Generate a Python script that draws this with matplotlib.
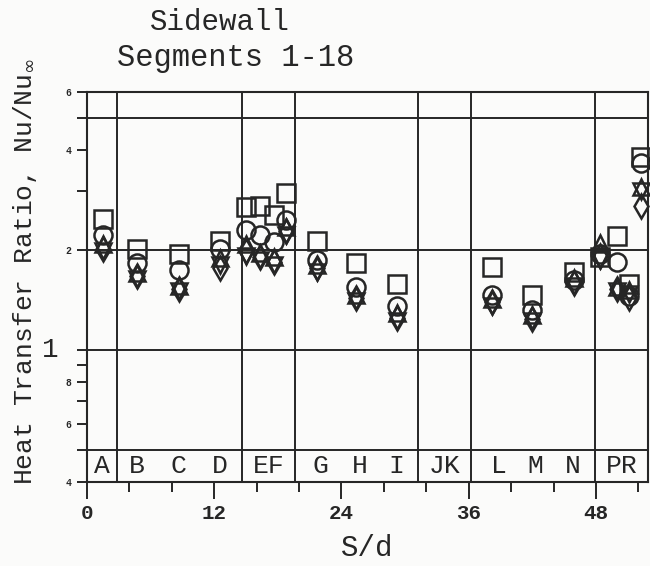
import matplotlib
matplotlib.use("Agg")
import matplotlib.pyplot as plt
from matplotlib.ticker import FixedLocator, FixedFormatter, MultipleLocator

# segment positions along the sidewall (S/d)
s_d = [1.5, 4.7, 8.7, 12.5, 15.0, 16.3, 17.6, 18.8, 21.7, 25.4, 29.2,
       38.2, 42.0, 45.9, 48.4, 50.0, 51.1, 52.2]

# heat transfer ratio Nu/Nu_inf, one list per symbol
nu_square = [2.48, 2.01, 1.95, 2.13, 2.69, 2.72, 2.55, 2.96, 2.13, 1.83, 1.58,
             1.78, 1.46, 1.72, 1.90, 2.20, 1.58, 3.80]
nu_circle = [2.22, 1.83, 1.74, 2.02, 2.30, 2.22, 2.12, 2.46, 1.87, 1.55, 1.36,
             1.46, 1.32, 1.62, 1.95, 1.84, 1.45, 3.65]
nu_tri_up = [2.08, 1.70, 1.56, 1.89, 2.08, 1.96, 1.90, 2.35, 1.80, 1.46, 1.29,
             1.42, 1.27, 1.65, 2.10, 1.55, 1.52, 3.10]
nu_tri_down = [1.98, 1.64, 1.50, 1.80, 1.92, 1.86, 1.80, 2.22, 1.72, 1.40, 1.22,
               1.36, 1.22, 1.56, 1.86, 1.50, 1.47, 3.00]
nu_diamond = [2.02, 1.67, 1.53, 1.76, 1.98, 1.90, 1.84, 2.28, 1.76, 1.43, 1.25,
              1.39, 1.24, 1.59, 1.92, 1.53, 1.43, 2.72]

# region boundaries and region names
boundaries = [2.8, 14.6, 19.6, 31.2, 36.2, 47.9]
region_names = ["A", "B", "C", "D", "EF", "G", "H", "I", "JK", "L", "M", "N", "PR"]
region_x = [1.4, 4.7, 8.6, 12.5, 17.1, 22.0, 25.7, 29.2, 33.7, 38.8, 42.3, 45.8, 50.4]
grid_levels = [0.5, 1, 2, 5]

y_ticks = [0.4, 0.5, 0.6, 0.7, 0.8, 0.9, 1, 2, 3, 4, 5, 6]
y_tick_labels = ["4", "", "6", "", "8", "", "", "2", "", "4", "", "6"]

INK = "#262626"
MONO = "Liberation Mono"

plt.rcParams["font.family"] = [MONO, "DejaVu Sans"]

fig = plt.figure(figsize=(6.5, 5.66), dpi=100, facecolor="#fbfbfa")
ax = fig.add_axes([0.1338, 0.1484, 0.8631, 0.6899])
ax.set_facecolor("#fbfbfa")

ax.set_yscale("log")
ax.set_xlim(0, 52.9)
ax.set_ylim(0.4, 6)

for lvl in grid_levels:
    ax.axhline(lvl, color=INK, lw=1.4, zorder=1)
for b in boundaries:
    ax.axvline(b, color=INK, lw=1.4, zorder=1)

for name, xc in zip(region_names, region_x):
    ax.text(xc, 0.447, name, ha="center", va="center", fontsize=19,
            color=INK, family=MONO)

series = [
    (nu_square, "s", 12.5),
    (nu_circle, "o", 13),
    (nu_tri_up, "^", 12),
    (nu_tri_down, "v", 12),
    (nu_diamond, "d", 12.5),
]
for vals, mk, size in series:
    ax.plot(s_d, vals, linestyle="none", marker=mk, ms=size, mfc="none",
            mec=INK, mew=1.8, zorder=3, clip_on=False)

for sp in ax.spines.values():
    sp.set_color(INK)
    sp.set_linewidth(1.5)

# x axis
ax.xaxis.set_major_locator(MultipleLocator(12))
ax.xaxis.set_minor_locator(MultipleLocator(4))
ax.tick_params(axis="x", which="major", direction="out", length=12, width=1.4,
               color=INK, pad=4, labelsize=15, labelcolor=INK)
ax.tick_params(axis="x", which="minor", direction="out", length=7, width=1.4,
               color=INK)
for lbl in ax.get_xticklabels():
    lbl.set_fontweight("bold")
    lbl.set_family(MONO)

# y axis
ax.yaxis.set_major_locator(FixedLocator(y_ticks))
ax.yaxis.set_major_formatter(FixedFormatter(y_tick_labels))
ax.yaxis.set_minor_locator(FixedLocator([]))
ax.tick_params(axis="y", which="major", direction="out", length=7, width=1.4,
               color=INK, pad=4, labelsize=7, labelcolor=INK)
for lbl in ax.get_yticklabels():
    lbl.set_fontweight("bold")
ax.text(-0.066, 1.0, "1", transform=ax.get_yaxis_transform(), ha="center",
        va="center", fontsize=20, color=INK, family=MONO)

ax.set_xlabel("S/d", fontsize=21, color=INK, family=MONO, labelpad=8)
fig.text(0.038, 0.52, r"Heat Transfer Ratio, Nu/Nu$_\infty$", rotation=90,
         ha="center", va="center", fontsize=19, color=INK, family=MONO)

fig.text(0.338, 0.962, "Sidewall", ha="center", va="center", fontsize=21,
         color=INK, family=MONO)
fig.text(0.362, 0.897, "Segments 1-18", ha="center", va="center", fontsize=22,
         color=INK, family=MONO)

fig.savefig("out.png", dpi=100, facecolor=fig.get_facecolor())
